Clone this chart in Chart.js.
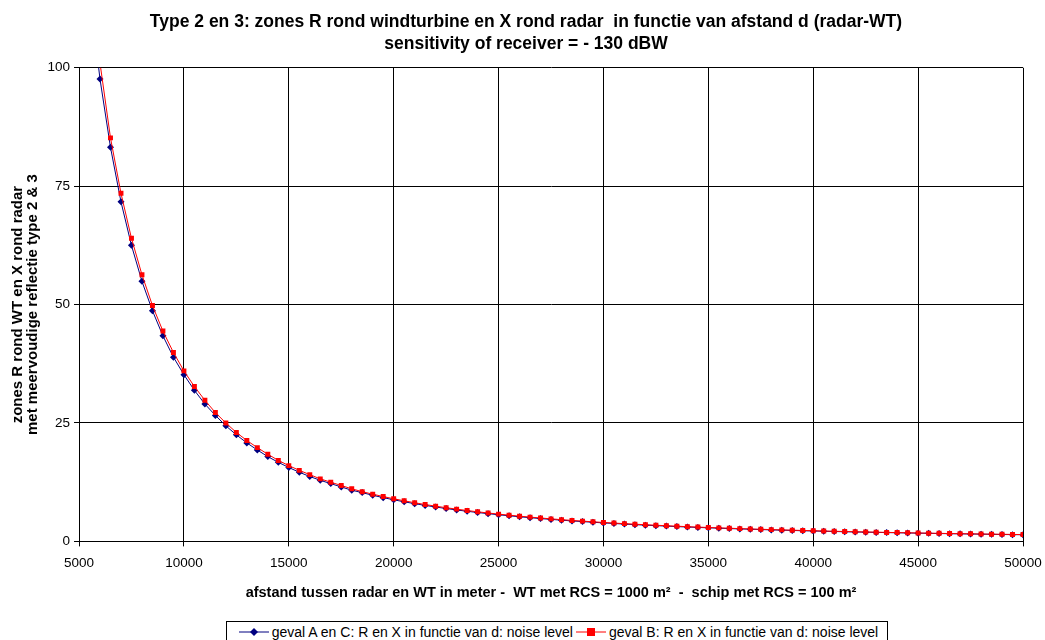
<!DOCTYPE html>
<html>
<head>
<meta charset="utf-8">
<script src="https://cdn.jsdelivr.net/npm/chart.js@4/dist/chart.umd.min.js"></script>
<style>
  html, body { margin: 0; padding: 0; background: #fff; }
  #wrap { position: relative; width: 1045px; height: 640px; overflow: hidden; }
  #chart { position: absolute; left: 0; top: 0; }
  #legend {
    position: absolute; left: 226px; top: 621px; width: 662px; height: 21px;
    border: 1px solid #000; box-sizing: border-box; background: #fff;
    font-family: "Liberation Sans", Arial, sans-serif; font-size: 14px; color: #000;
    display: flex; align-items: center; justify-content: center; white-space: nowrap;
  }
  #legend svg { margin: 0 3px 0 3px; }
</style>
</head>
<body>
<div id="wrap">
  <canvas id="chart" width="1045" height="640"></canvas>
  <div id="legend">
    <svg width="30" height="10"><line x1="0" y1="5" x2="30" y2="5" stroke="#000080" stroke-width="1"/><polygon points="15,1 19,5 15,9 11,5" fill="#000080"/></svg>
    <span>geval A en C: R en X in functie van d: noise level</span>
    <svg width="30" height="10"><line x1="0" y1="5" x2="30" y2="5" stroke="#ff0000" stroke-width="1"/><rect x="11" y="1" width="8" height="8" fill="#ff0000"/></svg>
    <span>geval B: R en X in functie van d: noise level</span>
  </div>
</div>
<script>
// afstand d in meter (every 500 m)
const distances = [
  5500, 6000, 6500, 7000, 7500, 8000, 8500, 9000, 9500, 10000,
  10500, 11000, 11500, 12000, 12500, 13000, 13500, 14000, 14500, 15000,
  15500, 16000, 16500, 17000, 17500, 18000, 18500, 19000, 19500, 20000,
  20500, 21000, 21500, 22000, 22500, 23000, 23500, 24000, 24500, 25000,
  25500, 26000, 26500, 27000, 27500, 28000, 28500, 29000, 29500, 30000,
  30500, 31000, 31500, 32000, 32500, 33000, 33500, 34000, 34500, 35000,
  35500, 36000, 36500, 37000, 37500, 38000, 38500, 39000, 39500, 40000,
  40500, 41000, 41500, 42000, 42500, 43000, 43500, 44000, 44500, 45000,
  45500, 46000, 46500, 47000, 47500, 48000, 48500, 49000, 49500, 50000
];

// geval A en C (blue diamonds)
const gevalAC = [
  116.2, 97.6, 83.2, 71.7, 62.5, 54.9, 48.7, 43.4, 38.9, 35.2,
  31.9, 29.0, 26.6, 24.4, 22.5, 20.8, 19.3, 17.9, 16.7, 15.6,
  14.6, 13.7, 12.9, 12.2, 11.5, 10.8, 10.3, 9.74, 9.24, 8.79,
  8.36, 7.97, 7.60, 7.26, 6.94, 6.64, 6.36, 6.10, 5.86, 5.62,
  5.41, 5.20, 5.01, 4.82, 4.65, 4.48, 4.33, 4.18, 4.04, 3.91,
  3.78, 3.66, 3.54, 3.43, 3.33, 3.23, 3.13, 3.04, 2.95, 2.87,
  2.79, 2.71, 2.64, 2.57, 2.50, 2.43, 2.37, 2.31, 2.25, 2.20,
  2.14, 2.09, 2.04, 1.99, 1.95, 1.90, 1.86, 1.82, 1.78, 1.74,
  1.70, 1.66, 1.63, 1.59, 1.56, 1.53, 1.49, 1.46, 1.43, 1.41
];

// geval B (red squares)
const gevalB = [
  119.0, 101.0, 85.2, 73.5, 64.0, 56.3, 49.8, 44.4, 39.9, 36.0,
  32.7, 29.8, 27.2, 25.0, 23.0, 21.3, 19.8, 18.4, 17.1, 16.0,
  15.0, 14.1, 13.2, 12.5, 11.8, 11.1, 10.5, 9.97, 9.47, 9.00,
  8.57, 8.16, 7.79, 7.44, 7.11, 6.81, 6.52, 6.25, 6.00, 5.76,
  5.54, 5.33, 5.13, 4.94, 4.76, 4.59, 4.43, 4.28, 4.14, 4.00,
  3.87, 3.75, 3.63, 3.52, 3.41, 3.31, 3.21, 3.11, 3.02, 2.94,
  2.86, 2.78, 2.70, 2.63, 2.56, 2.49, 2.43, 2.37, 2.31, 2.25,
  2.19, 2.14, 2.09, 2.04, 1.99, 1.95, 1.90, 1.86, 1.82, 1.78,
  1.74, 1.70, 1.66, 1.63, 1.60, 1.56, 1.53, 1.50, 1.47, 1.44
];

const xTicks = [5000, 10000, 15000, 20000, 25000, 30000, 35000, 40000, 45000, 50000];
const yTicks = [0, 25, 50, 75, 100];

const titleLines = [
  'Type 2 en 3: zones R rond windturbine en X rond radar  in functie van afstand d (radar-WT)',
  'sensitivity of receiver = - 130 dBW'
];
const xTitle = 'afstand tussen radar en WT in meter -  WT met RCS = 1000 m²  -  schip met RCS = 100 m²';
const yTitle = ['zones R rond WT en X rond radar', 'met meervoudige reflectie type 2 & 3'];

const FONT = '"Liberation Sans", Arial, sans-serif';

function toPoints(ys) {
  return distances.map((d, i) => ({ x: d, y: ys[i] }));
}

new Chart(document.getElementById('chart'), {
  type: 'line',
  data: {
    datasets: [{
      label: 'geval A en C: R en X in functie van d: noise level',
      data: toPoints(gevalAC),
      borderColor: '#000080',
      backgroundColor: '#000080',
      borderWidth: 1,
      pointStyle: 'rectRot',
      pointRadius: 3.5,
      pointBorderWidth: 0,
      tension: 0,
      clip: 0,
      order: 2
    }, {
      label: 'geval B: R en X in functie van d: noise level',
      data: toPoints(gevalB),
      borderColor: '#ff0000',
      backgroundColor: '#ff0000',
      borderWidth: 1,
      pointStyle: 'rect',
      pointRadius: 3.5,
      pointBorderWidth: 0,
      tension: 0,
      clip: 0,
      order: 1
    }]
  },
  options: {
    responsive: false,
    animation: false,
    devicePixelRatio: 1,
    layout: { padding: { left: 7, right: 0, top: 0, bottom: 34 } },
    plugins: {
      legend: { display: false },
      tooltip: { enabled: false },
      title: {
        display: true,
        text: titleLines,
        color: '#000',
        font: { family: FONT, size: 17.5, weight: 'bold', lineHeight: 1.25 },
        padding: { top: 11, bottom: 13 }
      }
    },
    scales: {
      x: {
        type: 'linear',
        min: 5000,
        max: 50000,
        afterBuildTicks: axis => { axis.ticks = xTicks.map(v => ({ value: v })); },
        afterFit: axis => { axis.paddingRight = 22; },
        grid: { color: '#000', lineWidth: 1, drawTicks: true, tickLength: 5 },
        border: { color: '#000', width: 1 },
        ticks: {
          color: '#000', font: { family: FONT, size: 13.5 }, maxRotation: 0, padding: 9,
          callback: v => String(v)
        },
        title: {
          display: true,
          text: xTitle,
          color: '#000',
          font: { family: FONT, size: 14.5, weight: 'bold' },
          padding: { top: 4 }
        }
      },
      y: {
        min: 0,
        max: 100,
        afterBuildTicks: axis => { axis.ticks = yTicks.map(v => ({ value: v })); },
        grid: { color: '#000', lineWidth: 1, drawTicks: true, tickLength: 5 },
        border: { color: '#000', width: 1 },
        ticks: {
          color: '#000', font: { family: FONT, size: 13.5 }, padding: 4,
          callback: v => String(v)
        },
        title: {
          display: true,
          text: yTitle,
          color: '#000',
          font: { family: FONT, size: 15, weight: 'bold', lineHeight: 0.95 },
          padding: { bottom: 4 }
        }
      }
    }
  }
});
</script>
</body>
</html>
